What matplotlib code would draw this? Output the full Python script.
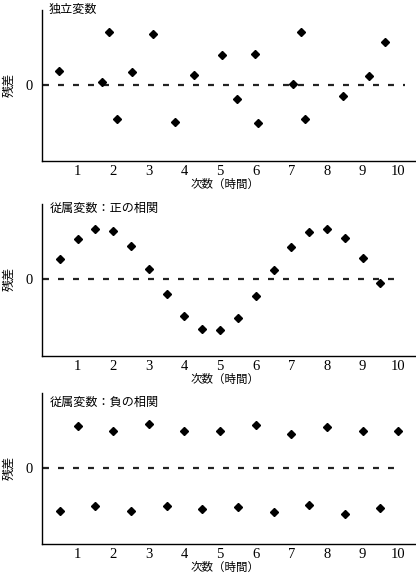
import matplotlib
matplotlib.use("Agg")
import matplotlib.pyplot as plt

plt.rcParams['lines.scale_dashes'] = False

W, H = 416, 580
DPI = 100

# ---- data ----
titles = ["独立変数", "従属変数：正の相関", "従属変数：負の相関"]
xlabel = "次数（時間）"
ylabel = "残差"
xtick_vals = [1, 2, 3, 4, 5, 6, 7, 8, 9, 10]
xtick_labels = ["1", "2", "3", "4", "5", "6", "7", "8", "9", "10"]

x_indep = [0.49, 1.69, 1.88, 2.10, 2.54, 3.12, 3.73, 4.26, 5.04, 5.47,
           5.98, 6.06, 7.04, 7.26, 7.37, 8.45, 9.19, 9.64]
y_indep = [14, 3, 53, -35, 13, 51, -38, 10, 30, -15,
           31, -39, 1, 53, -35, -12, 9, 43]

x_pos = [0.5, 1.0, 1.5, 2.0, 2.5, 3.0, 3.5, 4.0, 4.5, 5.0,
         5.5, 6.0, 6.5, 7.0, 7.5, 8.0, 8.5, 9.0, 9.5]
y_pos = [20, 40, 50, 48, 33, 10, -15, -37, -50, -51,
         -39, -17, 9, 32, 47, 50, 41, 21, -4]

x_neg = [0.5, 1.0, 1.5, 2.0, 2.5, 3.0, 3.5, 4.0, 4.5, 5.0,
         5.5, 6.0, 6.5, 7.0, 7.5, 8.0, 8.5, 9.0, 9.5, 10.0]
y_neg = [-44, 42, -39, 37, -44, 44, -39, 37, -42, 37,
         -40, 43, -45, 34, -38, 41, -47, 37, -41, 37]

series = [(x_indep, y_indep), (x_pos, y_pos), (x_neg, y_neg)]

# ---- layout (pixels) ----
panel_px = [(10, 161), (204, 356), (393, 544)]   # (top, bottom)
title_px = [(49, 9), (50, 208), (50, 402)]
dash_end = [0.97, 0.94, 0.94]
left_px = 42

cjk = ['Noto Sans CJK JP', 'DejaVu Sans']
serif = ['Liberation Serif', 'DejaVu Serif']

fig = plt.figure(figsize=(W / DPI, H / DPI), dpi=DPI)

for i, ((xs, ys), (top, bot)) in enumerate(zip(series, panel_px)):
    ax = fig.add_axes([left_px / W, (H - bot) / H, (W - left_px) / W, (bot - top) / H])
    ax.set_xlim(0, 10.5)
    ax.set_ylim(-77, 75)
    for s in ['top', 'right']:
        ax.spines[s].set_visible(False)
    for s in ['left', 'bottom']:
        ax.spines[s].set_linewidth(1.0)
        ax.spines[s].set_color('black')
    ax.axhline(0, xmin=0.003, xmax=dash_end[i], color='#222222', lw=1.6,
               dashes=(4.3, 6.5))
    ax.plot(xs, ys, linestyle='none', marker='D', ms=4.3, color='black')
    ax.set_xticks(xtick_vals)
    ax.set_xticklabels(xtick_labels, fontfamily=serif, fontsize=10.5)
    ax.set_yticks([0])
    ax.set_yticklabels(["0"], fontfamily=serif, fontsize=10.5)
    ax.tick_params(axis='x', length=0, pad=3)
    ax.tick_params(axis='y', length=0, pad=7)
    ax.set_ylabel(ylabel, fontfamily=cjk, fontsize=8.7)
    ax_h = bot - top
    ax.yaxis.set_label_coords((9 - left_px) / (W - left_px), 1 - (84 - 10) / ax_h * (ax_h / 151) if i == 0 else 0.5)
    ax.yaxis.label.set_va('center')
    ax.text((225 - left_px) / (W - left_px), -23.5 / ax_h, xlabel,
            transform=ax.transAxes, ha='center', va='center',
            fontfamily=cjk, fontsize=8.3)
    tx, ty = title_px[i]
    fig.text(tx / W, 1 - ty / H, titles[i], ha='left', va='center',
             fontfamily=cjk, fontsize=8.7)
    # place ylabel at zero level
    zero_frac = (0 - (-77)) / (75 - (-77))
    ax.yaxis.set_label_coords((9 - left_px) / (W - left_px), zero_frac)

fig.savefig("out.png", dpi=DPI)
